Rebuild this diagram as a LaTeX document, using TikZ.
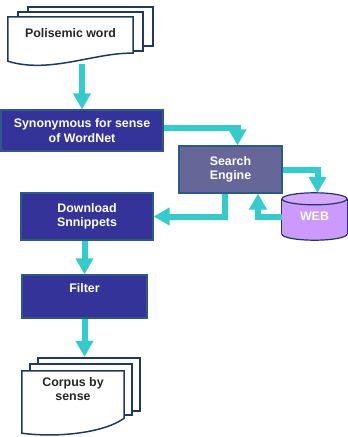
\documentclass[tikz,border=0pt]{standalone}
\usepackage{fontspec}
\setmainfont{Liberation Sans}
\usetikzlibrary{arrows.meta,positioning,backgrounds}
\definecolor{navy}{HTML}{1F3864}
\definecolor{boxblue}{HTML}{333399}
\definecolor{boxline}{HTML}{2B5A8A}
\definecolor{engine}{HTML}{666699}
\definecolor{webfill}{HTML}{CC99FF}
\definecolor{webtop}{HTML}{D5A8FF}
\definecolor{flowcyan}{HTML}{33CCCC}
\definecolor{doctext}{HTML}{262626}
\tikzset{
  procbox/.style={draw=boxline, line width=1.2pt, fill=boxblue, text=white,
    font=\bfseries\fontsize{12.4}{14.5}\selectfont, align=center, inner sep=2pt},
  docnode/.style={inner sep=2pt, text=doctext,
    font=\bfseries\fontsize{12.4}{14.5}\selectfont, align=center},
  sheet/.style={draw=navy, line width=1.5pt, fill=white},
  webnode/.style={inner sep=0pt, text=white, font=\bfseries\fontsize{12.4}{14.5}\selectfont},
  cylline/.style={draw=navy, line width=1.2pt},
  flow/.style={draw=flowcyan, line width=6pt, -{Triangle[width=17pt,length=16pt]}}
}

\begin{document}
\begin{tikzpicture}[x=1pt, y=-1pt]
  \useasboundingbox (0,0) rectangle (348,437);

  \node[docnode, minimum width=125pt, minimum height=36pt, text depth=4pt] (poly) at (70.5,35) {Polisemic word};
  \node[procbox, minimum width=162pt, minimum height=41pt] (syn) at (82,130.5) {Synonymous for sense\\of WordNet};
  \node[procbox, fill=engine, minimum width=103pt, minimum height=47pt] (search) at (230.5,169.5) {Search\\Engine};
  \node[webnode, minimum width=65pt, minimum height=47pt] (web) at (314.5,216.5) {WEB};
  \node[procbox, minimum width=132pt, minimum height=47pt] (dl) at (87,216.5) {Download\\Snnippets};
  \node[procbox, minimum width=125pt, minimum height=43pt, text depth=17pt] (filter) at (84.5,296.5) {Filter};
  \node[docnode, minimum width=102pt, minimum height=47pt, text depth=11pt] (corpus) at (73,394.5) {Corpus by\\sense};

  \begin{scope}[on background layer]
    \draw[sheet] ([shift={(20,-10)}]poly.north west) rectangle ([shift={(20,-7)}]poly.south east);
    \draw[sheet] ([shift={(10,-5)}]poly.north west) rectangle ([shift={(10,-2)}]poly.south east);
    \draw[sheet] (poly.south east) -- (poly.north east) -- (poly.north west)
      -- ([yshift=-8pt]poly.south west) .. controls +(42,13) and +(-38,-1) .. (poly.south east) -- cycle;

    \draw[sheet] ([shift={(16,-13)}]corpus.north west) rectangle ([shift={(16,-7)}]corpus.south east);
    \draw[sheet] ([shift={(8,-7)}]corpus.north west) rectangle ([shift={(8,-3)}]corpus.south east);
    \draw[sheet] (corpus.south east) -- (corpus.north east) -- (corpus.north west)
      -- ([yshift=-15pt]corpus.south west) .. controls +(38,5) and +(-19,14) .. (corpus.south east) -- cycle;

    \draw[cylline, fill=webfill] ([yshift=6pt]web.south) ellipse [x radius=32.5, y radius=6];
    \fill[webfill] ([yshift=-6pt]web.north west) rectangle ([yshift=6pt]web.south east);
    \draw[cylline] ([yshift=-6pt]web.north west) -- ([yshift=6pt]web.south west);
    \draw[cylline] ([yshift=-6pt]web.north east) -- ([yshift=6pt]web.south east);
    \draw[cylline, fill=webtop] ([yshift=-6pt]web.north) ellipse [x radius=32.5, y radius=6];
  \end{scope}

  \coordinate (polyout) at ([yshift=-11pt]poly.south);
  \coordinate (corpusin) at ([yshift=14pt]corpus.north);

  \draw[flow] (polyout -| syn.north) -- (syn.north);
  \draw[flow] ([yshift=3pt]syn.east) -| ([xshift=7pt]search.north);
  \draw[flow] (search.east) -| ([xshift=3pt]web.north);
  \draw[flow] (web.west) -| ([xshift=27.5pt]search.south);
  \draw[flow] ([xshift=-5.5pt]search.south) |- (dl.east);
  \draw[flow] (dl.south -| filter.north) -- (filter.north);
  \draw[flow] (filter.south) -- (filter.south |- corpusin);
\end{tikzpicture}
\end{document}
